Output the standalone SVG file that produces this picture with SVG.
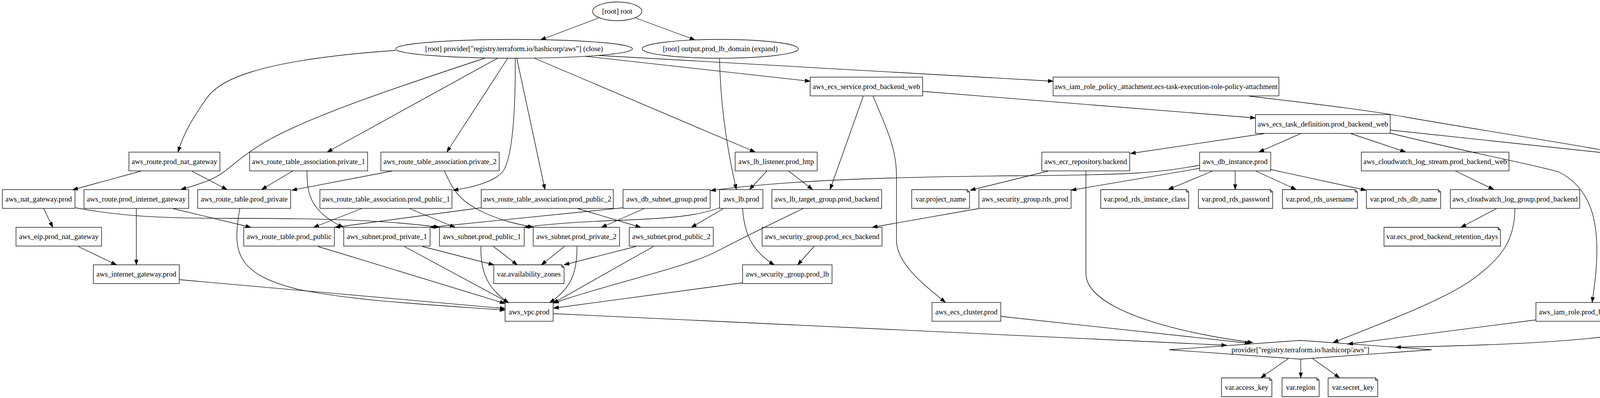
<svg xmlns="http://www.w3.org/2000/svg" width="4391" height="1019" viewBox="0 0 4391 1019">
<style>
.n rect,.n polygon,.n ellipse,.n polyline{fill:none;stroke:#000;stroke-width:1.33}
.n text{font-family:"Liberation Serif","Times New Roman",serif;font-size:18.67px;text-anchor:middle;fill:#000}
#edges path{fill:none;stroke:#000;stroke-width:1.33;marker-end:url(#ah)}
</style>
<defs>
<marker id="ah" markerUnits="userSpaceOnUse" markerWidth="14" markerHeight="10" refX="13.3" refY="4.67" orient="auto">
<path d="M0,0 L13.3,4.67 L0,9.33 z" fill="#000" stroke="#000" stroke-width="1"/>
</marker>
</defs>
<rect x="0" y="0" width="4391" height="1019" fill="#fff"/>

<g id="edges">
<path d="M1533,46 L1384,102"/>
<path d="M1627,46 L1779,102"/>
<path d="M1013,129 C640,155 560,210 530,250 C495,300 470,340 456,389"/>
<path d="M1241,149 C980,235 760,310 660,375 S590,450 463,485"/>
<path d="M1274,149 L838,389"/>
<path d="M1300,149 L1144,389"/>
<path d="M1319,149 C1320,300 1310,400 1290,435 C1270,465 1210,480 1160,487"/>
<path d="M1323,149 L1395,485"/>
<path d="M1368,149 L1933,389"/>
<path d="M1498,144 L2074,208"/>
<path d="M1533,142 L2696,208"/>
<path d="M1842,149 C1845,300 1870,420 1885,485"/>
<path d="M2210,246 L2125,485"/>
<path d="M2235,246 C2270,330 2295,380 2295,450 L2295,615 C2295,680 2380,740 2420,774"/>
<path d="M2362,234 L3214,302"/>
<path d="M3197,246 C3400,270 3520,285 3600,300 C3800,335 4000,365 4129,389"/>
<path d="M3237,342 L2894,393"/>
<path d="M3330,342 L3223,389"/>
<path d="M3458,342 L3598,389"/>
<path d="M3559,333 L4113,392"/>
<path d="M3559,341 C3780,395 3920,420 3990,440 C4070,480 4088,560 4088,640 C4088,700 4080,740 4076,774"/>
<path d="M4250,438 C4249,550 4247,700 4247,780 C4247,820 4230,835 4190,848 C4080,875 3800,885 3573,889"/>
<path d="M2683,438 L2484,487"/>
<path d="M2780,438 L2780,700 C2780,790 3000,850 3207,877"/>
<path d="M3071,423 C2960,443 2900,448 2600,450 C2250,453 2000,463 1819,488"/>
<path d="M3071,431 L2742,487"/>
<path d="M3104,438 L2991,485"/>
<path d="M3162,438 L3162,485"/>
<path d="M3215,438 L3318,485"/>
<path d="M3253,434 L3497,487"/>
<path d="M3726,438 L3824,485"/>
<path d="M3831,534 L3740,582"/>
<path d="M3878,534 C3878,610 3850,660 3760,722 C3680,775 3530,830 3413,877"/>
<path d="M3932,819 L3450,881"/>
<path d="M3298,918 L3228,967"/>
<path d="M3330,920 L3330,967"/>
<path d="M3360,918 L3429,967"/>
<path d="M1416,803 L3140,884"/>
<path d="M2562,810 L3200,879"/>
<path d="M361,438 L186,486"/>
<path d="M491,438 L581,485"/>
<path d="M749,438 L670,485"/>
<path d="M786,438 C786,490 790,540 879,582"/>
<path d="M1003,438 L747,487"/>
<path d="M1138,438 C1160,490 1180,515 1230,540 C1280,565 1330,575 1365,582"/>
<path d="M926,534 L803,582"/>
<path d="M1048,534 L1165,582"/>
<path d="M1231,532 L857,582"/>
<path d="M1479,534 L1640,582"/>
<path d="M1595,532 L1101,582"/>
<path d="M1842,532 C1780,555 1700,560 1560,565 C1450,570 1390,575 1342,582"/>
<path d="M1649,534 L1540,582"/>
<path d="M1852,534 L1770,582"/>
<path d="M1901,534 C1905,590 1920,640 1982,678"/>
<path d="M2056,534 C1960,580 1900,610 1842,640 C1760,685 1580,720 1417,776"/>
<path d="M2084,631 L2042,678"/>
<path d="M2505,534 L2233,582"/>
<path d="M1901,724 L1417,789"/>
<path d="M349,534 L349,678"/>
<path d="M443,534 L642,582"/>
<path d="M112,534 L135,582"/>
<path d="M193,532 C320,555 420,559 600,559 C850,559 1000,565 1125,582"/>
<path d="M200,631 L298,678"/>
<path d="M459,716 L1293,790"/>
<path d="M614,534 C595,640 600,700 760,740 C900,770 1100,780 1293,794"/>
<path d="M814,631 L1293,777"/>
<path d="M1035,631 L1302,775"/>
<path d="M1081,631 L1264,678"/>
<path d="M1231,631 C1230,700 1250,740 1302,775"/>
<path d="M1263,631 L1324,678"/>
<path d="M1445,631 L1386,678"/>
<path d="M1477,631 C1478,700 1460,740 1407,775"/>
<path d="M1628,631 L1444,678"/>
<path d="M1673,631 L1416,776"/>
<path d="M1963,438 L1919,485"/>
<path d="M2019,438 L2080,485"/>
</g>

<g id="root" class="n"><ellipse cx="1580" cy="29" rx="63" ry="24"/><text x="1580" y="35">[root] root</text></g>
<g id="provider_close" class="n"><ellipse cx="1316" cy="125" rx="303" ry="24"/><text x="1316" y="131">[root] provider["registry.terraform.io/hashicorp/aws"] (close)</text></g>
<g id="output_prod_lb_domain" class="n"><ellipse cx="1844" cy="125" rx="200" ry="24"/><text x="1844" y="131">[root] output.prod_lb_domain (expand)</text></g>

<g id="aws_ecs_service" class="n"><rect x="2074" y="197.5" width="288" height="48"/><text x="2218" y="227.5">aws_ecs_service.prod_backend_web</text></g>
<g id="aws_iam_role_policy_attachment" class="n"><rect x="2696" y="197.5" width="578" height="48"/><text x="2985" y="227.5">aws_iam_role_policy_attachment.ecs-task-execution-role-policy-attachment</text></g>
<g id="aws_ecs_task_definition" class="n"><rect x="3214" y="293.5" width="345" height="48"/><text x="3386.5" y="323.5">aws_ecs_task_definition.prod_backend_web</text></g>

<g id="aws_route_prod_nat_gateway" class="n"><rect x="330" y="389.5" width="233" height="48"/><text x="446.5" y="419.5">aws_route.prod_nat_gateway</text></g>
<g id="aws_rta_private_1" class="n"><rect x="639" y="389.5" width="302" height="48"/><text x="790" y="419.5">aws_route_table_association.private_1</text></g>
<g id="aws_rta_private_2" class="n"><rect x="975" y="389.5" width="303" height="48"/><text x="1126.5" y="419.5">aws_route_table_association.private_2</text></g>
<g id="aws_lb_listener" class="n"><rect x="1882" y="389.5" width="210" height="48"/><text x="1987" y="419.5">aws_lb_listener.prod_http</text></g>
<g id="aws_ecr_repository" class="n"><rect x="2667" y="389.5" width="225" height="48"/><text x="2779.5" y="419.5">aws_ecr_repository.backend</text></g>
<g id="aws_db_instance" class="n"><rect x="3071" y="389.5" width="182" height="48"/><text x="3162" y="419.5">aws_db_instance.prod</text></g>
<g id="aws_cloudwatch_log_stream" class="n"><rect x="3485" y="389.5" width="378" height="48"/><text x="3674" y="419.5">aws_cloudwatch_log_stream.prod_backend_web</text></g>
<g id="aws_iam_role_ecs_task_execution" class="n"><rect x="4116" y="389.5" width="269" height="48"/><text x="4250.5" y="419.5">aws_iam_role.ecs_task_execution</text></g>

<g id="aws_nat_gateway" class="n"><rect x="6" y="485.5" width="186" height="48"/><text x="99" y="515.5">aws_nat_gateway.prod</text></g>
<g id="aws_route_prod_internet_gateway" class="n"><rect x="215" y="485.5" width="268" height="48"/><text x="349" y="515.5">aws_route.prod_internet_gateway</text></g>
<g id="aws_route_table_prod_private" class="n"><rect x="506" y="485.5" width="238" height="48"/><text x="625" y="515.5">aws_route_table.prod_private</text></g>
<g id="aws_rta_prod_public_1" class="n"><rect x="819" y="485.5" width="338" height="48"/><text x="988" y="515.5">aws_route_table_association.prod_public_1</text></g>
<g id="aws_rta_prod_public_2" class="n"><rect x="1232" y="485.5" width="338" height="48"/><text x="1401" y="515.5">aws_route_table_association.prod_public_2</text></g>
<g id="aws_db_subnet_group" class="n"><rect x="1595" y="485.5" width="223" height="48"/><text x="1706.5" y="515.5">aws_db_subnet_group.prod</text></g>
<g id="aws_lb" class="n"><rect x="1842" y="485.5" width="111" height="48"/><text x="1897.5" y="515.5">aws_lb.prod</text></g>
<g id="aws_lb_target_group" class="n"><rect x="1976" y="485.5" width="281" height="48"/><text x="2116.5" y="515.5">aws_lb_target_group.prod_backend</text></g>
<g id="var_project_name" class="n"><polygon points="2334,485.5 2476,485.5 2482,491.5 2482,533.5 2334,533.5"/><polyline points="2476,485.5 2476,491.5 2482,491.5"/><text x="2408" y="515.5">var.project_name</text></g>
<g id="aws_security_group_rds_prod" class="n"><rect x="2506" y="485.5" width="236" height="48"/><text x="2624" y="515.5">aws_security_group.rds_prod</text></g>
<g id="var_prod_rds_instance_class" class="n"><polygon points="2818,485.5 3037,485.5 3043,491.5 3043,533.5 2818,533.5"/><polyline points="3037,485.5 3037,491.5 3043,491.5"/><text x="2930.5" y="515.5">var.prod_rds_instance_class</text></g>
<g id="var_prod_rds_password" class="n"><polygon points="3068,485.5 3252,485.5 3258,491.5 3258,533.5 3068,533.5"/><polyline points="3252,485.5 3252,491.5 3258,491.5"/><text x="3163" y="515.5">var.prod_rds_password</text></g>
<g id="var_prod_rds_username" class="n"><polygon points="3283,485.5 3469,485.5 3475,491.5 3475,533.5 3283,533.5"/><polyline points="3469,485.5 3469,491.5 3475,491.5"/><text x="3379" y="515.5">var.prod_rds_username</text></g>
<g id="var_prod_rds_db_name" class="n"><polygon points="3498,485.5 3682,485.5 3688,491.5 3688,533.5 3498,533.5"/><polyline points="3682,485.5 3682,491.5 3688,491.5"/><text x="3593" y="515.5">var.prod_rds_db_name</text></g>
<g id="aws_cloudwatch_log_group" class="n"><rect x="3713" y="485.5" width="331" height="48"/><text x="3878.5" y="515.5">aws_cloudwatch_log_group.prod_backend</text></g>

<g id="aws_eip" class="n"><rect x="41" y="582" width="219" height="48"/><text x="150.5" y="612">aws_eip.prod_nat_gateway</text></g>
<g id="aws_route_table_prod_public" class="n"><rect x="624" y="582" width="232" height="48"/><text x="740" y="612">aws_route_table.prod_public</text></g>
<g id="aws_subnet_prod_private_1" class="n"><rect x="880" y="582" width="221" height="48"/><text x="990.5" y="612">aws_subnet.prod_private_1</text></g>
<g id="aws_subnet_prod_public_1" class="n"><rect x="1125" y="582" width="217" height="48"/><text x="1233.5" y="612">aws_subnet.prod_public_1</text></g>
<g id="aws_subnet_prod_private_2" class="n"><rect x="1365" y="582" width="221" height="48"/><text x="1475.5" y="612">aws_subnet.prod_private_2</text></g>
<g id="aws_subnet_prod_public_2" class="n"><rect x="1611" y="582" width="215" height="48"/><text x="1718.5" y="612">aws_subnet.prod_public_2</text></g>
<g id="aws_security_group_prod_ecs_backend" class="n"><rect x="1951" y="582" width="307" height="48"/><text x="2104.5" y="612">aws_security_group.prod_ecs_backend</text></g>
<g id="var_ecs_prod_backend_retention_days" class="n"><polygon points="3543,582 3835,582 3841,588 3841,630 3543,630"/><polyline points="3835,582 3835,588 3841,588"/><text x="3692" y="612">var.ecs_prod_backend_retention_days</text></g>

<g id="aws_internet_gateway" class="n"><rect x="239" y="678" width="220" height="48"/><text x="349" y="708">aws_internet_gateway.prod</text></g>
<g id="var_availability_zones" class="n"><polygon points="1264,678 1438,678 1444,684 1444,726 1264,726"/><polyline points="1438,678 1438,684 1444,684"/><text x="1354" y="708">var.availability_zones</text></g>
<g id="aws_security_group_prod_lb" class="n"><rect x="1901" y="678" width="229" height="48"/><text x="2015.5" y="708">aws_security_group.prod_lb</text></g>

<g id="aws_vpc" class="n"><rect x="1293" y="774.5" width="123" height="48"/><text x="1354.5" y="804.5">aws_vpc.prod</text></g>
<g id="aws_ecs_cluster" class="n"><rect x="2386" y="774.5" width="176" height="48"/><text x="2474" y="804.5">aws_ecs_cluster.prod</text></g>
<g id="aws_iam_role_prod_backend_task" class="n"><rect x="3932" y="774.5" width="269" height="48"/><text x="4066.5" y="804.5">aws_iam_role.prod_backend_task</text></g>

<g id="provider_aws" class="n"><polygon points="3329,871.5 3665,895.5 3329,919.5 2993,895.5"/><text x="3329" y="901.5">provider["registry.terraform.io/hashicorp/aws"]</text></g>

<g id="var_access_key" class="n"><polygon points="3127,967.5 3250,967.5 3256,973.5 3256,1015.5 3127,1015.5"/><polyline points="3250,967.5 3250,973.5 3256,973.5"/><text x="3191.5" y="997.5">var.access_key</text></g>
<g id="var_region" class="n"><polygon points="3282,967.5 3371,967.5 3377,973.5 3377,1015.5 3282,1015.5"/><polyline points="3371,967.5 3371,973.5 3377,973.5"/><text x="3329.5" y="997.5">var.region</text></g>
<g id="var_secret_key" class="n"><polygon points="3400,967.5 3521,967.5 3527,973.5 3527,1015.5 3400,1015.5"/><polyline points="3521,967.5 3521,973.5 3527,973.5"/><text x="3463.5" y="997.5">var.secret_key</text></g>
</svg>
